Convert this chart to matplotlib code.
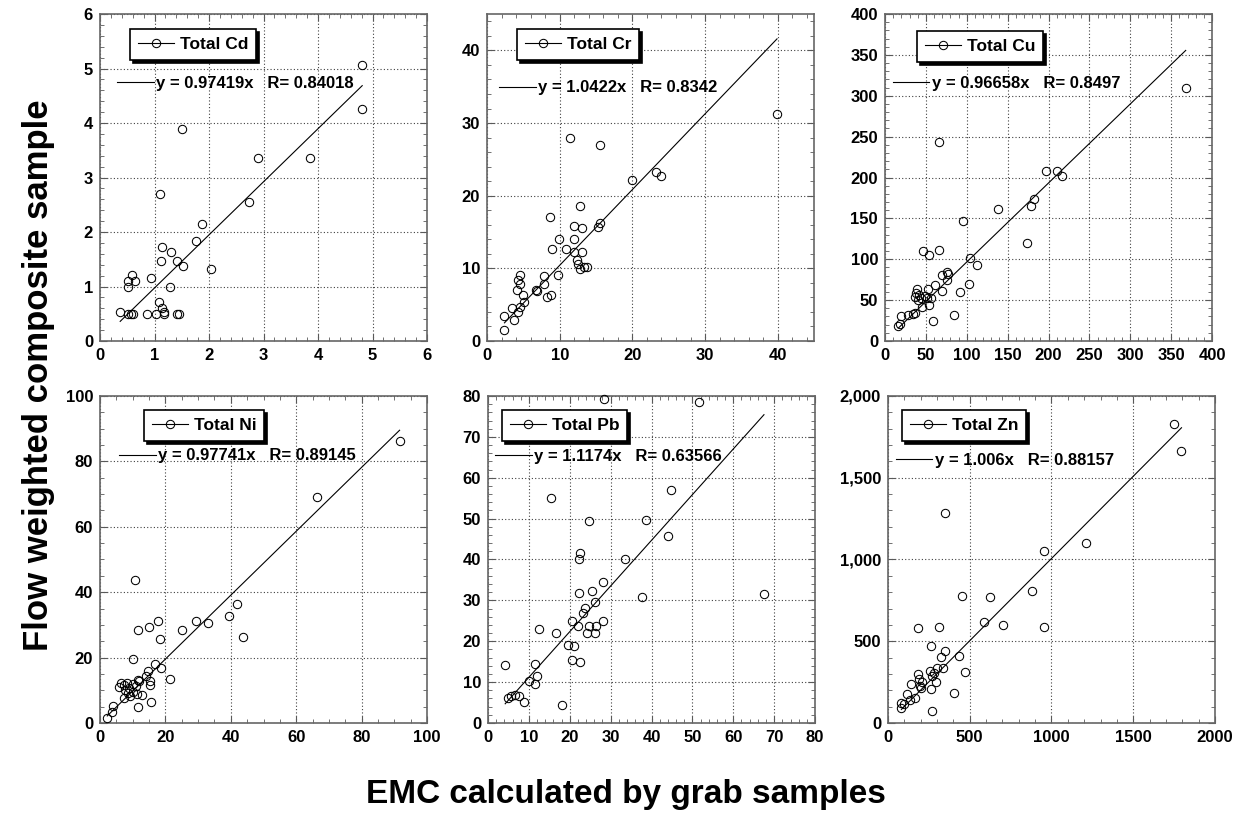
import matplotlib
matplotlib.use("Agg")
import matplotlib.pyplot as plt
from matplotlib.lines import Line2D
from matplotlib.ticker import MultipleLocator, AutoMinorLocator, FuncFormatter

plt.rcParams['font.family'] = ['Liberation Sans', 'DejaVu Sans']
plt.rcParams['font.weight'] = 'bold'

# ---- data (EMC by grab samples vs flow weighted composite)
cd_x = [4.80, 4.81, 1.51, 2.89, 3.85, 1.10, 2.74, 1.88, 1.76, 1.14, 1.31, 1.11, 1.41, 1.52, 2.03,
        0.58, 0.51, 0.64, 0.93, 0.51, 1.28, 1.09, 1.13, 1.17, 0.37, 0.52, 0.56, 0.61, 0.86, 1.02,
        1.18, 1.41, 1.44]
cd_y = [5.06, 4.26, 3.89, 3.35, 3.35, 2.69, 2.55, 2.14, 1.83, 1.73, 1.64, 1.46, 1.46, 1.38, 1.32,
        1.21, 1.11, 1.11, 1.15, 0.99, 0.99, 0.72, 0.60, 0.54, 0.53, 0.50, 0.50, 0.50, 0.50, 0.50,
        0.50, 0.50, 0.50]

cr_x = [39.9, 11.4, 15.5, 20.0, 23.2, 24.0, 12.8, 8.7, 12.0, 13.0, 15.5, 15.3, 9.95, 11.9, 9.0,
        10.8, 12.0, 13.0, 12.4, 12.5, 12.8, 13.3, 13.8, 9.8, 4.6, 4.3, 4.6, 7.8, 7.8, 4.1,
        6.9, 6.8, 4.9, 8.2, 8.8, 5.1, 3.5, 4.5, 4.3, 2.4, 3.7, 2.4]
cr_y = [31.3, 27.9, 27.0, 22.2, 23.3, 22.7, 18.6, 17.0, 15.8, 15.6, 16.3, 15.65, 14.0, 14.0, 12.7,
        12.7, 12.2, 12.2, 11.2, 10.6, 9.9, 10.2, 10.25, 9.15, 9.15, 8.4, 7.8, 8.9, 7.8, 7.05,
        6.9, 7.05, 6.3, 6.1, 6.3, 5.35, 4.6, 4.7, 4.0, 3.5, 2.9, 1.5]

cu_x = [367.8, 66.4, 196.7, 211, 216.7, 137.7, 178.4, 182, 173.5, 94.9, 46.8, 54.2, 65.5, 103.5,
        112.4, 75.5, 76.5, 69.3, 75.5, 103, 61.2, 52.2, 69.3, 38.8, 91.7, 37.6, 42, 49, 56, 36.3,
        44.4, 51.3, 40.8, 53.8, 45.7, 36.7, 28.5, 19.6, 34.6, 58.3, 84.8, 16.3, 18.3]
cu_y = [309.4, 243.7, 208.2, 208.6, 202, 162, 165.3, 173.9, 120.4, 146.5, 110.2, 104.9, 111, 101.2,
        93.1, 84, 81.5, 80.7, 74.6, 69.3, 68.5, 63.2, 61.5, 63.2, 59.5, 58.3, 56, 55.4, 53, 53.5,
        52.3, 52.3, 50.1, 44, 42, 33.9, 31.8, 30.6, 33, 24.8, 31.8, 18.3, 20.3]

ni_x = [91.6, 66.4, 10.8, 42, 39.3, 29.2, 33, 17.8, 14.9, 11.6, 25, 43.7, 18.3, 10, 16.8, 18.6,
        21.4, 14.6, 14, 15.3, 15.3, 11.5, 12, 6.4, 7.3, 5.9, 8.2, 10.2, 11, 9, 7.6, 10, 8.5, 11.2,
        12.9, 7.3, 9.2, 11.5, 15.6, 4.1, 3.6, 2.2]
ni_y = [86.3, 69.1, 43.6, 36.4, 32.7, 31.1, 30.5, 31.3, 29.3, 28.3, 28.3, 26.4, 25.8, 19.6, 17.9,
        16.8, 13.5, 16, 14.4, 12.9, 11.6, 13.1, 12.9, 12.1, 11.6, 10.9, 12.3, 11.9, 11.2, 10.6,
        10.1, 9.6, 9.1, 8.9, 8.6, 7.5, 8.2, 5, 6.5, 5.2, 3.5, 1.6]

pb_x = [28.3, 51.5, 44.7, 15.3, 24.7, 38.7, 44.1, 22.5, 22.2, 33.5, 28.1, 22.2, 25.5, 37.6, 67.5,
        26.1, 23.7, 23.2, 20.6, 22, 24.8, 26.5, 28.1, 24.3, 26.1, 12.4, 16.7, 19.6, 21.1, 20.6,
        22.5, 4.2, 11.6, 11.9, 10, 11.6, 4.9, 6.7, 7.5, 8.7, 18.1, 5.6]
pb_y = [79.2, 78.5, 57.1, 55.1, 49.4, 49.6, 45.7, 41.7, 40, 40.1, 34.4, 31.7, 32.2, 30.7, 31.6,
        29.5, 28.1, 27, 24.9, 23.8, 23.8, 23.7, 24.9, 22.1, 22, 22.9, 22, 19.1, 18.9, 15.4, 14.9,
        14.1, 14.4, 11.4, 10.3, 9.6, 6.2, 6.9, 6.5, 5.1, 4.3, 6.6]

zn_x = [1748, 1795, 348, 1213, 957, 879, 453, 623, 588, 704, 957, 184, 312, 265, 347, 327, 433,
        337, 302, 469, 255, 282, 184, 188, 296, 210, 139, 194, 204, 265, 404, 116, 163, 133, 82,
        98, 82, 269, 270]
zn_y = [1827, 1664, 1282, 1099, 1052, 806, 777, 769, 618, 597, 590, 579, 589, 473, 440, 406, 412,
        334, 338, 314, 320, 304, 298, 267, 253, 253, 239, 229, 212, 206, 185, 177, 151, 141, 124,
        114, 90, 75, 285]

metals = ['Total Cd', 'Total Cr', 'Total Cu', 'Total Ni', 'Total Pb', 'Total Zn']
slopes = [0.97419, 1.0422, 0.96658, 0.97741, 1.1174, 1.006]
r_values = ['0.84018', '0.8342', '0.8497', '0.89145', '0.63566', '0.88157']
xs = [cd_x, cr_x, cu_x, ni_x, pb_x, zn_x]
ys = [cd_y, cr_y, cu_y, ni_y, pb_y, zn_y]
limits = [6, 45, 400, 100, 80, 2000]
steps = [1, 10, 50, 20, 10, 500]

# layout (figure fractions) and legend anchors (axes fractions)
lefts = [0.0804, 0.3915, 0.7114, 0.0804, 0.3923, 0.7138]
bottoms = [0.5826, 0.5826, 0.5826, 0.1151, 0.1151, 0.1151]
box_pos = [(0.092, 0.954), (0.092, 0.954), (0.098, 0.948), (0.135, 0.957), (0.043, 0.957), (0.043, 0.957)]
fit_pos = [(0.052, 0.789), (0.037, 0.774), (0.024, 0.789), (0.058, 0.817), (0.021, 0.814), (0.024, 0.804)]

fig = plt.figure(figsize=(12.44, 8.17), dpi=100)

for i in range(6):
    ax = fig.add_axes([lefts[i], bottoms[i], 0.2629, 0.4002])
    x = xs[i]
    y = ys[i]
    ax.plot(x, y, 'o', ms=6, mfc='none', mec='black', mew=0.75, clip_on=False, zorder=3)
    x0, x1 = min(x), max(x)
    ax.plot([x0, x1], [slopes[i] * x0, slopes[i] * x1], color='black', lw=0.8, zorder=2)

    lim = limits[i]
    ax.set_xlim(0, lim)
    ax.set_ylim(0, lim)
    ax.xaxis.set_major_locator(MultipleLocator(steps[i]))
    ax.yaxis.set_major_locator(MultipleLocator(steps[i]))
    if i == 1:
        ax.set_xticks([0, 10, 20, 30, 40])
        ax.set_yticks([0, 10, 20, 30, 40])
        ax.xaxis.set_minor_locator(MultipleLocator(2))
        ax.yaxis.set_minor_locator(MultipleLocator(2))
    else:
        ax.xaxis.set_minor_locator(AutoMinorLocator())
        ax.yaxis.set_minor_locator(AutoMinorLocator())
    if i == 5:
        ax.yaxis.set_major_formatter(FuncFormatter(lambda v, p: '{:,.0f}'.format(v)))

    ax.grid(True, which='major', color='0.25', linestyle=(0, (1, 2)), linewidth=0.8)
    ax.tick_params(which='both', direction='in', top=True, right=True, color='0.35')
    ax.tick_params(which='major', length=5, labelsize=12, pad=5)
    ax.tick_params(which='minor', length=3)
    for lab in ax.get_xticklabels() + ax.get_yticklabels():
        lab.set_fontweight('bold')
    for sp in ax.spines.values():
        sp.set_color('0.4')
        sp.set_linewidth(1.2)

    h_pts = Line2D([], [], color='black', lw=0.8, marker='o', ms=6, mfc='none', mec='black', mew=0.75)
    leg = ax.legend([h_pts], [metals[i]], loc='upper left', bbox_to_anchor=box_pos[i],
                    borderaxespad=0, frameon=True, fancybox=False, edgecolor='black',
                    framealpha=1, shadow={'color': 'black', 'alpha': 1}, numpoints=1,
                    handlelength=2.1, handletextpad=0.3, borderpad=0.45,
                    prop={'size': 12.5, 'weight': 'bold'})
    leg.get_frame().set_linewidth(1.2)
    ax.add_artist(leg)

    h_fit = Line2D([], [], color='black', lw=0.8)
    fit_label = 'y = {}x   R= {}'.format(slopes[i], r_values[i])
    ax.legend([h_fit], [fit_label], loc='center left', bbox_to_anchor=fit_pos[i],
              borderaxespad=0, borderpad=0, frameon=False, handlelength=2.2,
              handletextpad=0.15, prop={'size': 12, 'weight': 'bold'})

fig.text(0.031, 0.541, 'Flow weighted composite sample', rotation=90, ha='center', va='center',
         fontsize=25, fontweight='bold')
fig.text(0.503, 0.027, 'EMC calculated by grab samples', ha='center', va='center',
         fontsize=24, fontweight='bold')

fig.savefig('out.png', dpi=100)
